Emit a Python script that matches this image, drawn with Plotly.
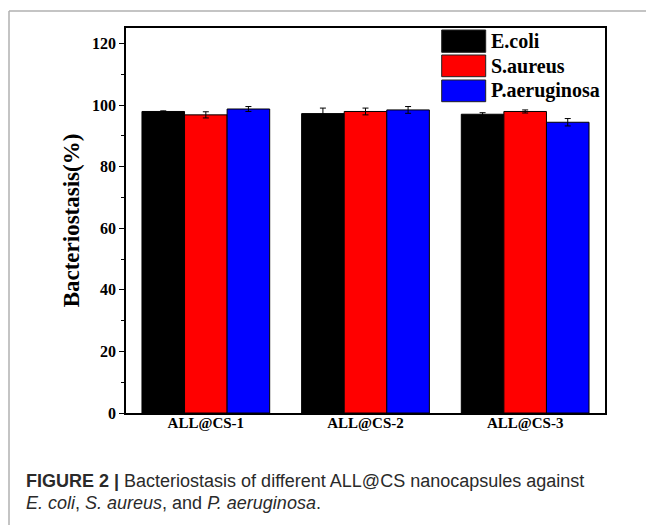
import plotly.graph_objects as go

categories = ["ALL@CS-1", "ALL@CS-2", "ALL@CS-3"]
series_names = ["E.coli", "S.aureus", "P.aeruginosa"]
series_colors = ["#000000", "#ff0000", "#0000ff"]
ecoli = [97.9, 97.2, 97.0]
ecoli_err = [0.2, 1.8, 0.5]
saureus = [96.8, 97.9, 97.9]
saureus_err = [1.0, 1.1, 0.5]
paeruginosa = [98.7, 98.4, 94.4]
paeruginosa_err = [0.8, 1.1, 1.2]

values = [ecoli, saureus, paeruginosa]
errors = [ecoli_err, saureus_err, paeruginosa_err]

W, H = 646, 525
L, R, T, B = 126, 41, 28, 112
pw, ph = W - L - R, H - T - B

def px(x):
    return (x - L) / pw

def py(y):
    return (H - B - y) / ph

serif = "Liberation Serif, Times New Roman, serif"
sans = "Liberation Sans, Arial, Helvetica, sans-serif"

fig = go.Figure()
for name, col, v, e in zip(series_names, series_colors, values, errors):
    fig.add_trace(go.Bar(
        x=categories, y=v, name=name,
        marker=dict(color=col, line=dict(color="#000000", width=1)),
        error_y=dict(type="data", array=e, visible=True, color="#000000",
                     thickness=1, width=3),
        showlegend=False,
    ))

shapes = []
annotations = []
# custom legend with large swatches
box_x0, box_x1 = px(441.7), px(485.7)
box_rows = [(30, 52.3), (55, 76.7), (80, 101.7)]
for (y0, y1), name, col in zip(box_rows, series_names, series_colors):
    shapes.append(dict(type="rect", xref="paper", yref="paper",
                       x0=box_x0, x1=box_x1, y0=py(y1), y1=py(y0),
                       fillcolor=col, line=dict(color="#222222", width=1)))
    annotations.append(dict(xref="paper", yref="paper", x=px(489),
                            y=py((y0 + y1) / 2), xanchor="left", yanchor="middle",
                            text=name, showarrow=False,
                            font=dict(family=serif, size=20, color="#000000",
                                      weight="bold")))

# outer page border lines
shapes.append(dict(type="line", xref="paper", yref="paper",
                   x0=px(9), x1=px(646), y0=py(11), y1=py(11),
                   line=dict(color="#b0b0b0", width=1.5)))
shapes.append(dict(type="line", xref="paper", yref="paper",
                   x0=px(9), x1=px(9), y0=py(11), y1=py(525),
                   line=dict(color="#b0b0b0", width=1.5)))

# caption
annotations.append(dict(xref="paper", yref="paper", x=px(24), y=py(481),
                        xanchor="left", yanchor="middle", showarrow=False,
                        text="<b>FIGURE 2 |</b> Bacteriostasis of different ALL@CS nanocapsules against",
                        font=dict(family=sans, size=18, color="#2a2a2a")))
annotations.append(dict(xref="paper", yref="paper", x=px(24), y=py(503),
                        xanchor="left", yanchor="middle", showarrow=False,
                        text="<i>E. coli</i>, <i>S. aureus</i>, and <i>P. aeruginosa</i>.",
                        font=dict(family=sans, size=18, color="#2a2a2a")))

fig.update_layout(
    width=W, height=H,
    margin=dict(l=L, r=R, t=T, b=B),
    paper_bgcolor="white", plot_bgcolor="white",
    barmode="group", bargap=0.2, bargroupgap=0,
    shapes=shapes, annotations=annotations,
)
fig.update_xaxes(
    showline=True, mirror=True, linecolor="#000000", linewidth=1.5,
    ticks="", showgrid=False, zeroline=False, ticklabelstandoff=-5,
    tickfont=dict(family=serif, size=15, color="#000000", weight="bold"),
)
fig.update_yaxes(
    range=[0, 125], dtick=20, tick0=0,
    showline=True, mirror=True, linecolor="#000000", linewidth=1.5,
    ticks="outside", ticklen=5, tickwidth=1.2, tickcolor="#000000",
    minor=dict(ticks="outside", ticklen=3, dtick=10, tickcolor="#000000", tickwidth=1.2),
    showgrid=False, zeroline=False,
    tickfont=dict(family=serif, size=16, color="#000000", weight="bold"),
    title=dict(text="Bacteriostasis(%)", standoff=6,
               font=dict(family=serif, size=23, color="#000000", weight="bold")),
)

fig.write_html("out.html")
